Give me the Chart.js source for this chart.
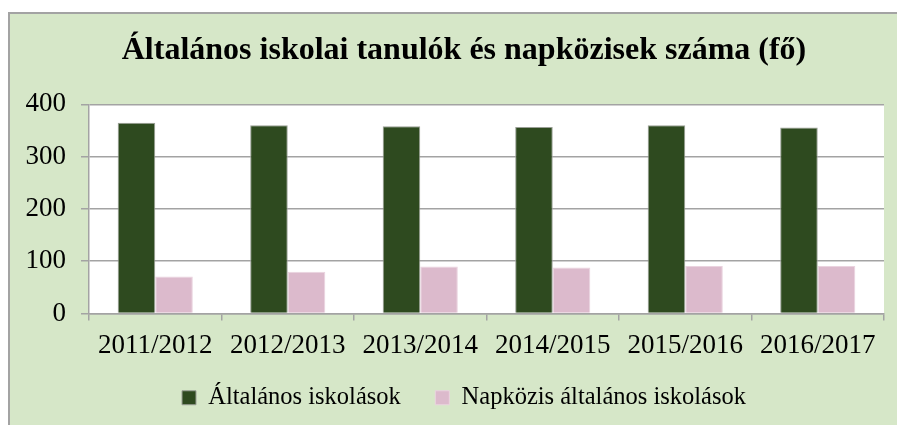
<!DOCTYPE html>
<html lang="hu">
<head>
  <meta charset="utf-8">
  <title>Általános iskolai tanulók és napközisek száma</title>
  <script src="https://cdn.jsdelivr.net/npm/chart.js@4.4.0/dist/chart.umd.min.js"></script>
  <style>
    html, body { margin: 0; padding: 0; background: #ffffff; overflow: hidden; }
    /* the frame runs past the right edge, so title and legend sit right of the window centre */
    #box {
      position: absolute; left: 8px; top: 12px; width: 908px; height: 411px;
      background: #d6e7c8; border-top: 2px solid #a3a3a3; border-left: 2px solid #a3a3a3;
    }
    #box canvas { display: block; }
  </style>
</head>
<body>
  <div id="box"><canvas id="myChart" width="908" height="411"></canvas></div>
  <script>
    // tanévek
    var years = ['2011/2012', '2012/2013', '2013/2014', '2014/2015', '2015/2016', '2016/2017'];
    // általános iskolások száma (fő)
    var pupils = [365, 360, 358, 357, 360, 356];
    // napközis általános iskolások (fő)
    var dayCare = [71, 80, 90, 88, 91, 91];
    var yTicks = [0, 100, 200, 300, 400];

    var serif = "'Liberation Serif', 'Times New Roman', serif";
    Chart.defaults.font.family = serif;
    Chart.defaults.color = '#000000';

    var ctx = document.getElementById('myChart').getContext('2d');
    var chart = new Chart(ctx, {
      type: 'bar',
      data: {
        labels: years,
        datasets: [{
          label: 'Általános iskolások',
          data: pupils,
          backgroundColor: '#2e4a1f',
          borderColor: '#9a9f96',
          borderWidth: 1,
          categoryPercentage: 0.567,
          barPercentage: 1.0
        }, {
          label: 'Napközis általános iskolások',
          data: dayCare,
          backgroundColor: '#dcbacc',
          borderColor: '#ead3df',
          borderWidth: 1,
          categoryPercentage: 0.567,
          barPercentage: 1.0
        }]
      },
      plugins: [{
        id: 'plotBg',
        beforeDraw: function(c) {
          var a = c.chartArea;
          c.ctx.save();
          c.ctx.fillStyle = '#ffffff';
          c.ctx.fillRect(a.left, a.top, a.right - a.left, a.bottom - a.top);
          c.ctx.restore();
        }
      }],
      options: {
        responsive: false,
        animation: false,
        layout: { padding: { top: 0, right: 0, left: 0, bottom: 5 } },
        plugins: {
          title: {
            display: true,
            text: 'Általános iskolai tanulók és napközisek száma (fő)',
            font: { size: 32, weight: 'bold', family: serif },
            color: '#000000',
            padding: { top: 18, bottom: 34 }
          },
          legend: {
            position: 'bottom',
            labels: {
              font: { size: 24.5, family: serif },
              color: '#000000',
              boxWidth: 14,
              boxHeight: 14,
              padding: 10,
              generateLabels: function(c) {
                var items = Chart.defaults.plugins.legend.labels.generateLabels(c);
                // wider gap between the two legend entries
                items[0].text += '\u00a0\u00a0\u00a0\u00a0';
                return items;
              }
            }
          },
          tooltip: { enabled: false }
        },
        scales: {
          x: {
            grid: { offset: true, drawOnChartArea: false, tickLength: 7, color: '#a3a3a3', lineWidth: 1.5 },
            border: { color: '#a3a3a3', width: 1.5 },
            ticks: { font: { size: 27, family: serif }, color: '#000000', padding: 9, maxRotation: 0 },
            afterFit: function(s) { s.height = 62; }
          },
          y: {
            min: 0,
            max: 400,
            afterBuildTicks: function(s) { s.ticks = yTicks.map(function(v) { return { value: v }; }); },
            grid: { color: '#a3a3a3', lineWidth: 1.5, tickLength: 8 },
            border: { color: '#a3a3a3', width: 1.5 },
            ticks: { font: { size: 27, family: serif }, color: '#000000', padding: 15 },
            afterFit: function(s) { s.width = 79; }
          },
          // empty right-hand axis: only keeps a margin right of the plot
          spacer: {
            type: 'linear',
            position: 'right',
            grid: { display: false },
            border: { display: false },
            ticks: { display: false },
            afterFit: function(s) { s.width = 34; }
          }
        }
      }
    });
  </script>
</body>
</html>
